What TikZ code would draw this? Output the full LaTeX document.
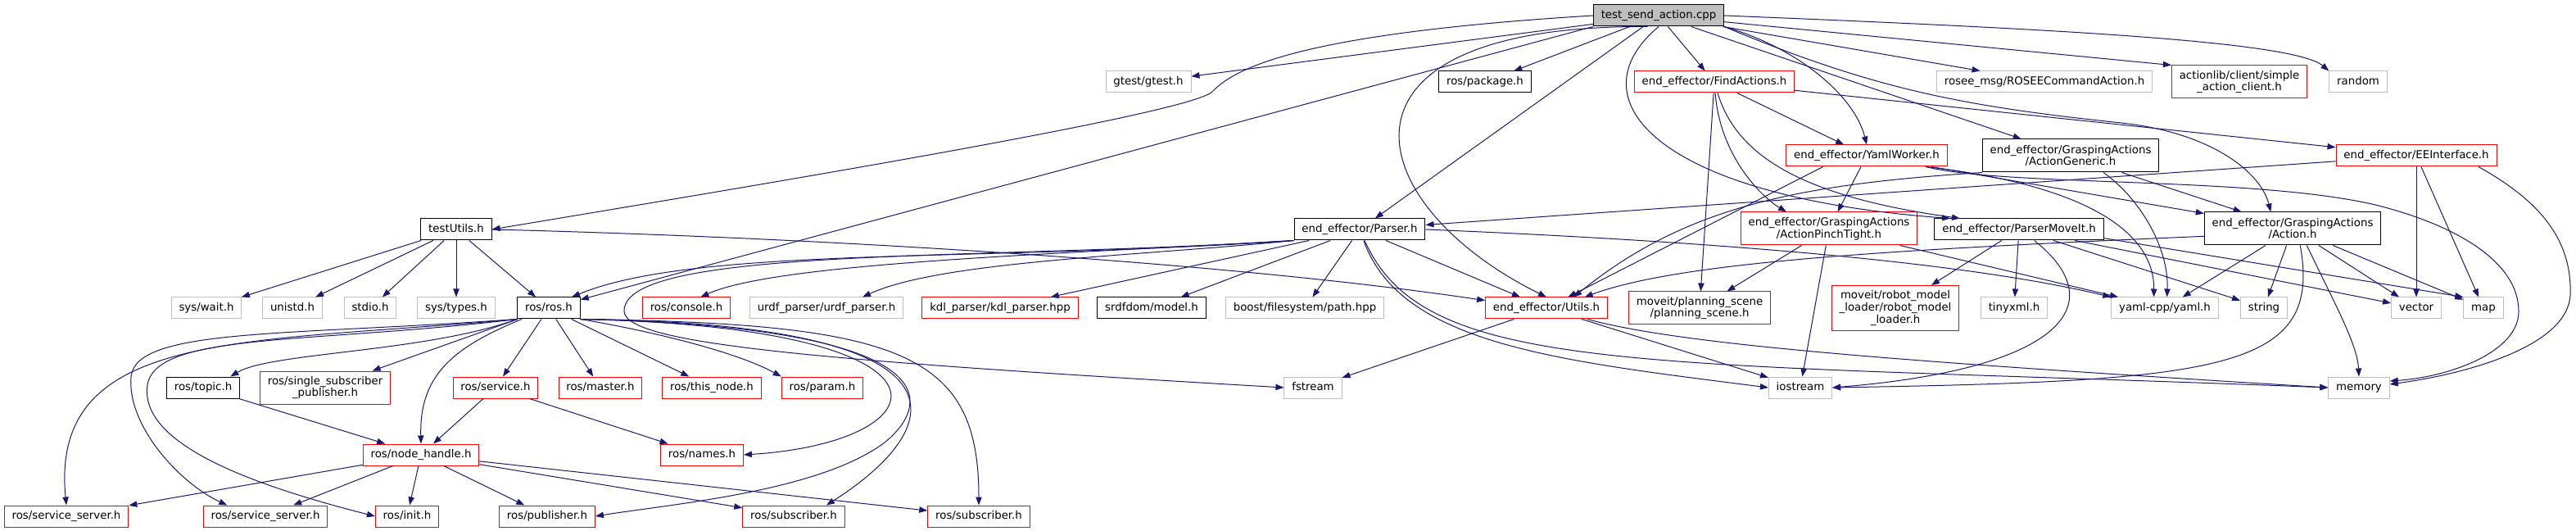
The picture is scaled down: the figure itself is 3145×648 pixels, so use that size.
\documentclass[tikz,border=0pt]{standalone}
\usepackage{fontspec}
\setmainfont{DejaVu Sans}
\usetikzlibrary{arrows.meta}

\definecolor{edgeblue}{HTML}{191970}
\definecolor{grey75}{HTML}{BFBFBF}

\begin{document}
\begin{tikzpicture}[->,>={Triangle[length=7.5pt,width=5.5pt]},x=0.75pt,y=-0.75pt,
                    font=\fontsize{10}{11}\selectfont,
                    file/.style={draw,fill=white,line width=0.75pt,align=center,
                                 inner xsep=7pt,inner ysep=2pt,minimum height=19.5pt,
                                 text height=7.5pt,text depth=2.5pt},
                    twoline/.style={text height={},text depth={},minimum height=30pt},
                    threeline/.style={text height={},text depth={},minimum height=41.25pt},
                    docfile/.style={file,draw=black},
                    extfile/.style={file,draw=grey75},
                    cutfile/.style={file,draw=red},
                    mainfile/.style={file,draw=black,fill=grey75},
                    every edge/.style={draw=edgeblue,line width=0.75pt},
                    dep/.style={draw=edgeblue,line width=0.75pt}]
  \useasboundingbox (0,0) rectangle (3145,648);
  \fill[white,-] (0,0) rectangle (3145,648);

  % files
  \node[mainfile] (main)        at (2025,19)  {test\_send\_action.cpp};

  \node[extfile]  (gtest)       at (1402,100) {gtest/gtest.h};
  \node[docfile]  (package)     at (1813,100) {ros/package.h};
  \node[cutfile]  (findact)     at (2093,100) {end\_effector/FindActions.h};
  \node[extfile]  (roseemsg)    at (2496,100) {rosee\_msg/ROSEECommandAction.h};
  \node[cutfile,twoline] (actclient) at (2734,100) {actionlib/client/simple\\\_action\_client.h};
  \node[extfile]  (random)      at (2879,100) {random};

  \node[cutfile]  (yamlwork)    at (2279,190) {end\_effector/YamlWorker.h};
  \node[docfile,twoline] (actgeneric) at (2528,190) {end\_effector/GraspingActions\\/ActionGeneric.h};
  \node[cutfile]  (eeiface)     at (2950,190) {end\_effector/EEInterface.h};

  \node[docfile]  (testutils)   at (557,280)  {testUtils.h};
  \node[docfile]  (parser)      at (1660,280) {end\_effector/Parser.h};
  \node[cutfile,twoline] (pinch) at (2233,279) {end\_effector/GraspingActions\\/ActionPinchTight.h};
  \node[docfile]  (pmoveit)     at (2465,280) {end\_effector/ParserMoveIt.h};
  \node[docfile,twoline] (action) at (2799,279) {end\_effector/GraspingActions\\/Action.h};

  \node[extfile]  (syswait)     at (252,376)  {sys/wait.h};
  \node[extfile]  (unistd)      at (357,376)  {unistd.h};
  \node[extfile]  (stdio)       at (452,376)  {stdio.h};
  \node[extfile]  (systypes)    at (557,376)  {sys/types.h};
  \node[docfile]  (rosros)      at (670,376)  {ros/ros.h};
  \node[cutfile]  (console)     at (838,376)  {ros/console.h};
  \node[extfile]  (urdf)        at (1009,376) {urdf\_parser/urdf\_parser.h};
  \node[cutfile]  (kdl)         at (1221,376) {kdl\_parser/kdl\_parser.hpp};
  \node[docfile]  (srdf)        at (1406,376) {srdfdom/model.h};
  \node[extfile]  (fspath)      at (1593,376) {boost/filesystem/path.hpp};
  \node[cutfile]  (utils)       at (1888,376) {end\_effector/Utils.h};
  \node[cutfile,twoline] (planscene) at (2075,376) {moveit/planning\_scene\\/planning\_scene.h};
  \node[cutfile,threeline] (rmloader) at (2314,376) {moveit/robot\_model\\\_loader/robot\_model\\\_loader.h};
  \node[extfile]  (tinyxml)     at (2459,376) {tinyxml.h};
  \node[extfile]  (yamlcpp)     at (2643,376) {yaml-cpp/yaml.h};
  \node[extfile]  (string)      at (2764,376) {string};
  \node[extfile]  (vector)      at (2950,376) {vector};
  \node[extfile]  (map)         at (3032,376) {map};

  \node[docfile]  (topic)       at (248,473)  {ros/topic.h};
  \node[cutfile,twoline] (sspub) at (397,473) {ros/single\_subscriber\\\_publisher.h};
  \node[cutfile]  (service)     at (605,473)  {ros/service.h};
  \node[cutfile]  (master)      at (733,473)  {ros/master.h};
  \node[cutfile]  (thisnode)    at (869,473)  {ros/this\_node.h};
  \node[cutfile]  (param)       at (1004,473) {ros/param.h};
  \node[extfile]  (fstream)     at (1603,473) {fstream};
  \node[extfile]  (iostream)    at (2198,473) {iostream};
  \node[extfile]  (memory)      at (2880,473) {memory};

  \node[cutfile]  (nodehandle)  at (514,555)  {ros/node\_handle.h};
  \node[cutfile]  (names)       at (857,555)  {ros/names.h};

  \node[cutfile]  (srvserver)   at (81,630)   {ros/service\_server.h};
  \node[cutfile]  (srvserver2)  at (324,630)  {ros/service\_server.h};
  \node[cutfile]  (init)        at (497,630)  {ros/init.h};
  \node[cutfile]  (publisher)   at (668,630)  {ros/publisher.h};
  \node[cutfile]  (subscriber)  at (969,630)  {ros/subscriber.h};
  \node[cutfile]  (subscriber2) at (1195,630) {ros/subscriber.h};

  % straight includes
  \path (main)       edge (gtest)
                     edge (package)
                     edge (findact)
                     edge (parser)
                     edge (roseemsg)
                     edge (actgeneric)
                     edge (actclient.north west)
        (main.south west) edge (rosros)
        (findact)    edge (eeiface)
                     edge (yamlwork)
                     edge (planscene)
        (yamlwork)   edge (pinch)
                     edge (action)
        ([xshift=-40pt]yamlwork.south) edge (utils)
        (actgeneric) edge (action)
        (eeiface)    edge (parser)
                     edge (vector)
                     edge (map)
        (parser)     edge (kdl)
                     edge (srdf)
                     edge (fspath)
                     edge (utils)
        (pinch)      edge (iostream)
                     edge (planscene)
                     edge (yamlcpp)
        (pmoveit)    edge (rmloader)
                     edge (tinyxml)
                     edge (string)
                     edge (vector)
        ([yshift=-8pt]pmoveit.east) edge (map.north west)
        (action)     edge (yamlcpp)
                     edge (string)
                     edge (vector)
                     edge (map)
        (testutils)  edge (syswait)
                     edge (unistd)
                     edge (stdio)
                     edge (systypes)
                     edge (rosros)
        (utils)      edge (fstream)
                     edge (iostream)
        (rosros)     edge (sspub)
                     edge (service)
                     edge (master)
                     edge (thisnode)
        (topic)      edge (nodehandle)
        (service)    edge (nodehandle)
                     edge (names)
        (nodehandle) edge (srvserver)
                     edge (srvserver2)
                     edge (init)
                     edge (publisher)
                     edge (subscriber)
                     edge (subscriber2);

  % curved includes
  \draw[dep] (main.west) .. controls (1600,40) and (1510,80) .. (1480,112)
             .. controls (1450,140) and (900,230) .. (testutils.east);
  \draw[dep] ([xshift=-10pt]main.south) .. controls (1600,30) and (1660,250) .. (utils.north);
  \draw[dep] (main.south) .. controls (1920,120) and (2020,240) .. ([xshift=-63pt]pmoveit.north);
  \draw[dep] (main.south east) .. controls (2200,60) and (2265,120) .. (yamlwork.north);
  \draw[dep] (main.east) .. controls (2500,35) and (2800,50) .. (random.north west);
  \draw[dep] (main.south east) .. controls (2290,110) and (2400,130) .. (2590,150)
             .. controls (2700,162) and (2760,210) .. ([xshift=-20pt]action.north);

  \draw[dep] (findact) .. controls (2100,190) and (2150,240) .. ([xshift=-39pt]pinch.north);
  \draw[dep] (findact) .. controls (2120,190) and (2200,240) .. ([xshift=-54pt]pmoveit.north);

  \draw[dep] ([xshift=-20pt]yamlwork.south east) .. controls (2540,225) and (2630,280) .. ([xshift=-10pt]yamlcpp.north);
  \draw[dep] ([xshift=-20pt]yamlwork.south east) .. controls (2450,228) and (2750,215) .. (2900,250)
             .. controls (3000,275) and (3075,320) .. (3075,380)
             .. controls (3075,430) and (2990,460) .. ([yshift=6pt]memory.east);

  \draw[dep] ([xshift=30pt]actgeneric.south) .. controls (2610,240) and (2648,300) .. ([xshift=2pt]yamlcpp.north);
  \draw[dep] (actgeneric.south west) .. controls (2200,225) and (2060,250) .. ([xshift=25pt]utils.north);

  \draw[dep] ([xshift=-17pt]eeiface.south east) .. controls (3110,250) and (3140,300) .. (3138,360)
             .. controls (3135,420) and (3020,455) .. ([yshift=3pt]memory.east);

  \draw[dep] (parser.south west) .. controls (1200,320) and (850,300) .. ([xshift=-8pt]rosros.north east);
  \draw[dep] (parser.south west) .. controls (1300,310) and (950,320) .. ([xshift=13pt]console.north);
  \draw[dep] (parser.south west) .. controls (1400,312) and (1150,318) .. ([xshift=33pt]urdf.north);
  \draw[dep] (parser.south west) .. controls (1200,318) and (760,300) .. (762,380)
             .. controls (764,420) and (1000,440) .. (fstream.west);
  \draw[dep] (parser.east) .. controls (2100,295) and (2400,320) .. (yamlcpp.north west);
  \draw[dep] (parser) .. controls (1710,420) and (1900,440) .. (iostream.west);
  \draw[dep] (parser) .. controls (1740,460) and (2000,440) .. (memory.west);

  \draw[dep] (testutils.east) .. controls (1000,290) and (1500,320) .. ([yshift=7pt]utils.west);
  \draw[dep] (utils) .. controls (2050,420) and (2300,440) .. (memory.west);

  \draw[dep] ([xshift=14pt]pmoveit.south) .. controls (2580,370) and (2520,450) .. (iostream.east);

  \draw[dep] ([yshift=-7pt]action.west) .. controls (2300,305) and (2050,320) .. ([xshift=35pt]utils.north);
  \draw[dep] ([xshift=7pt]action.south) .. controls (2835,450) and (2720,465) .. (iostream.east);
  \draw[dep] ([xshift=13pt]action.south) .. controls (2850,370) and (2878,420) .. (memory.north);

  \draw[dep] (rosros.south west) .. controls (520,430) and (330,430) .. ([xshift=25pt]topic.north);
  \draw[dep] (rosros.south east) .. controls (800,405) and (900,430) .. (param.north west);
  \draw[dep] (rosros) .. controls (550,425) and (512,460) .. (nodehandle.north);
  \draw[dep] (rosros.south west) .. controls (300,420) and (60,400) .. (srvserver.north);
  \draw[dep] (rosros.south west) .. controls (350,410) and (165,400) .. (160,460)
             .. controls (155,520) and (220,590) .. ([xshift=-35pt]srvserver2.north);
  \draw[dep] (rosros.south west) .. controls (380,420) and (190,405) .. (180,470)
             .. controls (170,540) and (300,590) .. (init.west);
  \draw[dep] (rosros.south east) .. controls (1200,400) and (1150,540) .. (names.east);
  \draw[dep] (rosros.south east) .. controls (1200,395) and (1160,520) .. ([xshift=30pt]subscriber.north);
  \draw[dep] (rosros.south east) .. controls (1100,395) and (1195,430) .. (subscriber2.north);
  \draw[dep] (rosros.south east) .. controls (1180,400) and (1130,500) .. (1080,540)
             .. controls (1000,600) and (820,615) .. (publisher.east);
\end{tikzpicture}
\end{document}
